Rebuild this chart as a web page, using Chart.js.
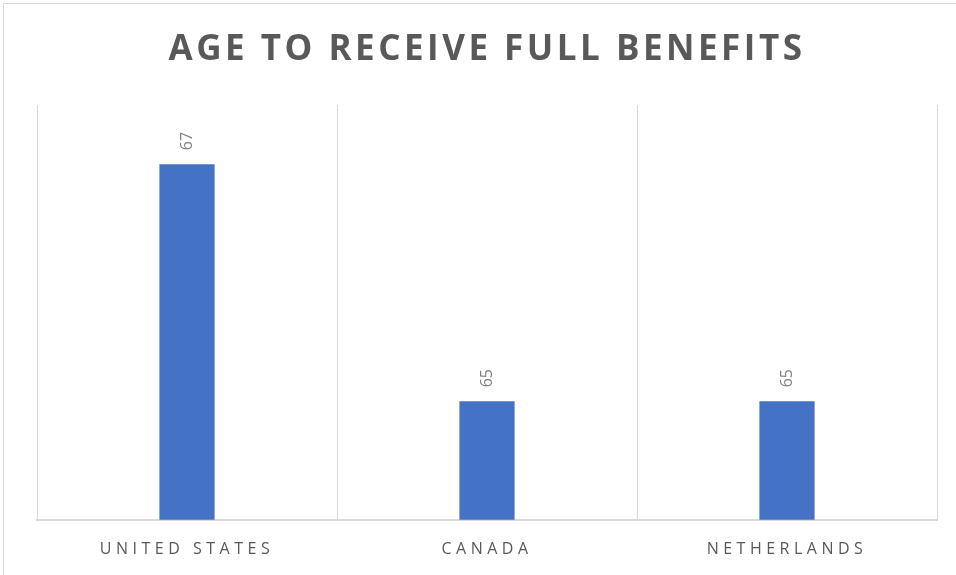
<!DOCTYPE html>
<html>
<head>
<meta charset="utf-8">
<script src="https://cdn.jsdelivr.net/npm/chart.js@4/dist/chart.umd.min.js"></script>
<style>
    html, body { margin: 0; padding: 0; background: #fff; overflow: hidden; }
    #frame { position: absolute; left: 3px; top: 3px; width: 1000px; height: 620px;
             border-left: 1px solid #d9d9d9; border-top: 1px solid #d9d9d9; }
    #wrap { position: absolute; left: 0; top: 0; width: 956px; height: 575px; }
</style>
</head>
<body>
<div id="frame"></div>
<div id="wrap"><canvas id="ageChart"></canvas></div>
<script>
var chartTitle = "AGE TO RECEIVE FULL BENEFITS"
var countries = ["UNITED STATES", "CANADA", "NETHERLANDS"]
var fullBenefitAge = [67, 65, 65]

var textGrey = "#595959"
var gridGrey = "#d9d9d9"

// spaced-out title drawn on top of the padding reserved above the plot
var spacedTitle = {
    id: "spacedTitle",
    beforeDraw: function(chart){
        chart.ctx.letterSpacing = "4.5px"
    },
    afterDraw: function(chart){
        var ctx = chart.ctx
        ctx.save()
        ctx.letterSpacing = "3.5px"
        ctx.font = "bold 35px 'Open Sans'"
        ctx.fillStyle = textGrey
        ctx.textAlign = "center"
        ctx.textBaseline = "middle"
        ctx.fillText(chartTitle, 487, 50)
        ctx.restore()
        ctx.letterSpacing = "0px"
    }
}

// value written sideways above each bar
var barValues = {
    id: "barValues",
    afterDatasetsDraw: function(chart){
        var ctx = chart.ctx
        var meta = chart.getDatasetMeta(0)
        var data = chart.data.datasets[0].data
        ctx.save()
        ctx.letterSpacing = "0px"
        ctx.font = "16px 'Open Sans'"
        ctx.fillStyle = "#7f7f7f"
        ctx.textAlign = "left"
        ctx.textBaseline = "middle"
        meta.data.forEach(function(bar, i){
            ctx.save()
            ctx.translate(bar.x, bar.y - 14)
            ctx.rotate(-Math.PI / 2)
            ctx.fillText(String(data[i]), 0, 0)
            ctx.restore()
        })
        ctx.restore()
    }
}

var canvas = document.querySelector("#ageChart")

var ageData = {
    label: "age to receive full benefits",
    data: fullBenefitAge,
    backgroundColor: "#4472C4",
    barPercentage: 0.184,
    categoryPercentage: 1
}

var barChart = new Chart(canvas, {
    type: "bar",
    data: {
        labels: countries,
        datasets: [ageData]
    },
    options: {
        responsive: true,
        maintainAspectRatio: false,
        animation: false,
        layout: { padding: { top: 105, left: 37, right: 19, bottom: -4 } },
        plugins: {
            legend: { display: false },
            title: { display: false },
            tooltip: { enabled: false }
        },
        scales: {
            x: {
                grid: { color: gridGrey, lineWidth: 1, drawTicks: false, offset: true },
                border: { color: gridGrey, width: 2 },
                ticks: { color: textGrey, padding: 20, font: { family: "'Open Sans'", size: 16 } }
            },
            y: {
                display: false,
                min: 64,
                max: 67.5
            }
        }
    },
    plugins: [spacedTitle, barValues]
})
</script>
</body>
</html>
